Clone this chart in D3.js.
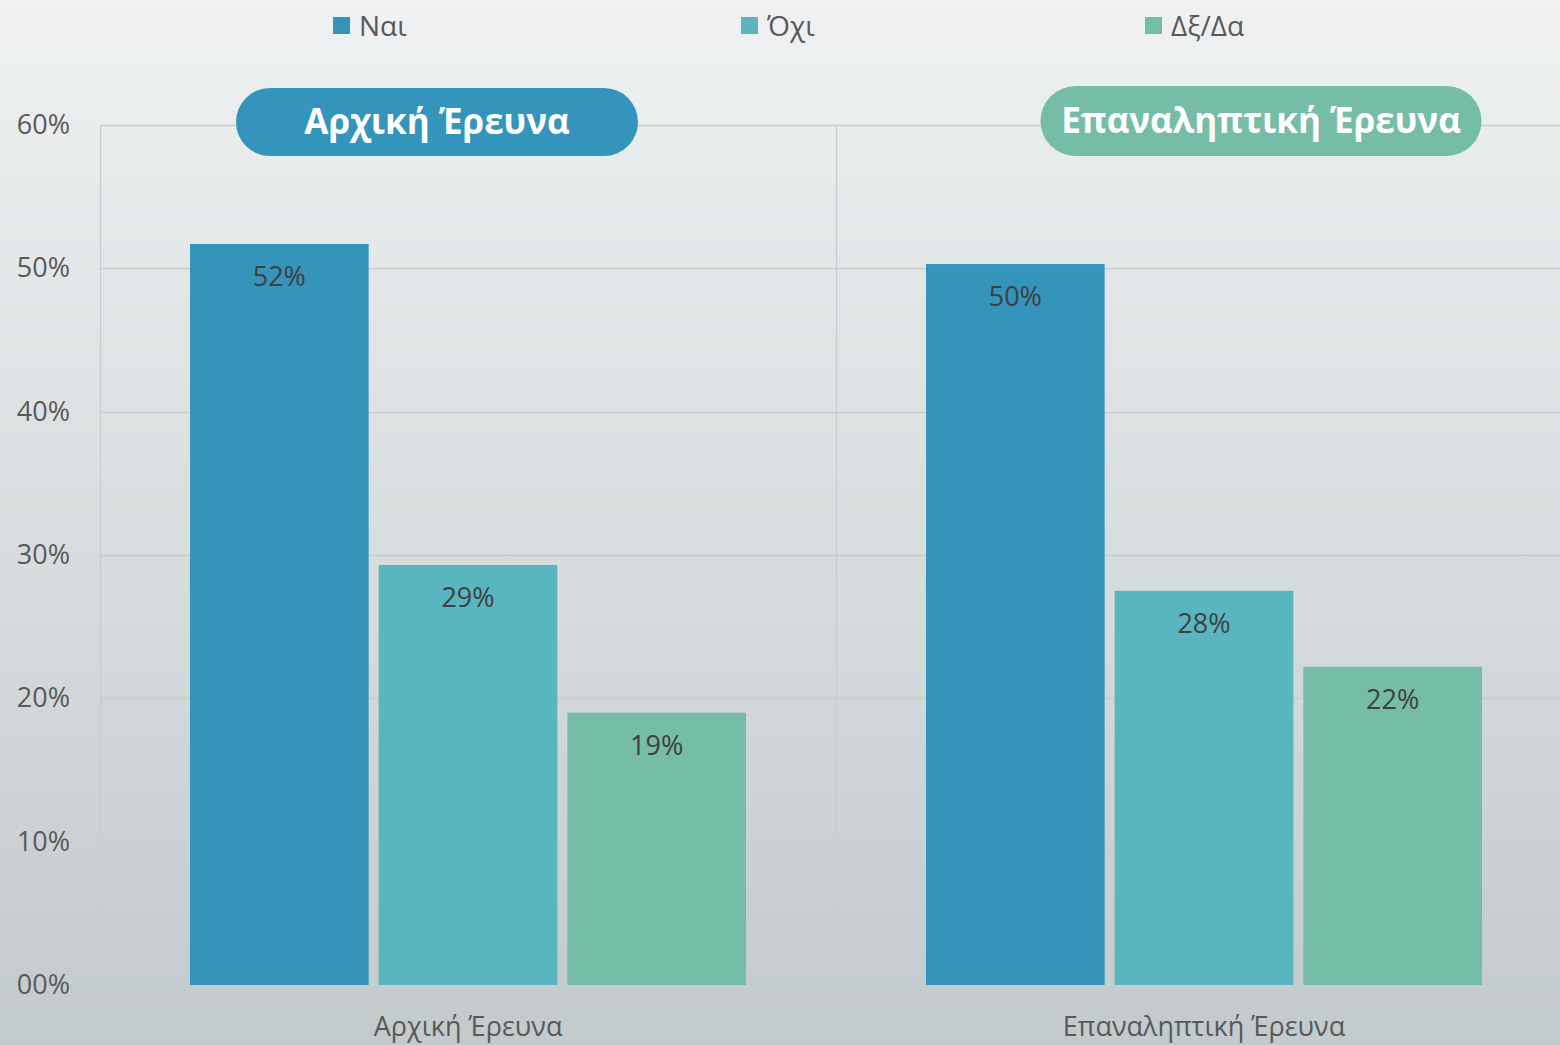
<!DOCTYPE html>
<html lang="el">
<head>
<meta charset="utf-8">
<title>Αρχική vs Επαναληπτική Έρευνα</title>
<script src="https://d3js.org/d3.v7.min.js"></script>
<style>
  html, body { margin: 0; padding: 0; overflow: hidden; }
  body { width: 1560px; height: 1045px; }
  text { font-family: "Open Sans", "Noto Sans", sans-serif; }
</style>
</head>
<body>
<div id="chart"></div>
<script>
    // Chart data
    const groups = ["Αρχική Έρευνα", "Επαναληπτική Έρευνα"];
    const seriesNames = ["Ναι", "Όχι", "Δξ/Δα"];
    const seriesColors = ["#3594bb", "#59b6c0", "#75bda6"];
    const valuesNai = [51.7, 50.3];
    const valuesOxi = [29.3, 27.5];
    const valuesDxDa = [19.0, 22.2];
    const valueLabels = [["52%", "29%", "19%"], ["50%", "28%", "22%"]];
    const yTicks = [0, 10, 20, 30, 40, 50, 60];
    const yTickLabels = ["00%", "10%", "20%", "30%", "40%", "50%", "60%"];
    const badgeColors = ["#3594bb", "#75bda6"];

    const seriesValues = [valuesNai, valuesOxi, valuesDxDa];

    const width = 1560;
    const height = 1045;
    const margin = { top: 125, right: -12, bottom: 60, left: 100 };

    const svg = d3.select("#chart")
        .append("svg")
        .attr("width", width)
        .attr("height", height);

    // Background gradient
    const grad = svg.append("defs").append("linearGradient")
        .attr("id", "bg")
        .attr("x1", 0).attr("y1", 0).attr("x2", 0).attr("y2", 1);
    grad.append("stop").attr("offset", "0%").attr("stop-color", "#eff1f2");
    grad.append("stop").attr("offset", "100%").attr("stop-color", "#c3cacc");

    svg.append("rect")
        .attr("width", width)
        .attr("height", height)
        .attr("fill", "url(#bg)");

    // Scales
    const x0 = d3.scaleBand()
        .domain(groups)
        .range([margin.left, width - margin.right])
        .padding(0);

    const x1 = d3.scaleBand()
        .domain(seriesNames)
        .range([90, x0.bandwidth() - 90])
        .paddingInner(0.053)
        .paddingOuter(0);

    const y = d3.scaleLinear()
        .domain([0, 60])
        .range([height - margin.bottom, margin.top]);

    // Gridlines
    svg.append("g")
        .selectAll("line")
        .data(yTicks)
        .join("line")
        .attr("x1", margin.left)
        .attr("x2", width)
        .attr("y1", d => Math.round(y(d)) + 0.5)
        .attr("y2", d => Math.round(y(d)) + 0.5)
        .attr("stroke", "#c9cdcf")
        .attr("stroke-width", 1.3);

    // Vertical lines: left axis and group divider
    svg.append("g")
        .selectAll("line")
        .data([x0(groups[0]), x0(groups[1])])
        .join("line")
        .attr("x1", d => Math.round(d) + 0.5)
        .attr("x2", d => Math.round(d) + 0.5)
        .attr("y1", y(60))
        .attr("y2", y(0))
        .attr("stroke", "#c9cdcf")
        .attr("stroke-width", 1.3);

    // Y axis labels
    const yAxis = svg.append("g")
        .attr("transform", `translate(${margin.left},0)`)
        .call(d3.axisLeft(y).tickValues(yTicks).tickFormat((d, i) => yTickLabels[i]).tickSize(0).tickPadding(30));
    yAxis.select(".domain").remove();
    yAxis.selectAll("text")
        .attr("fill", "#595959")
        .style("font-size", "27px")
        .style("font-family", "'Open Sans', sans-serif");

    // X axis labels
    const xAxis = svg.append("g")
        .attr("transform", `translate(0,${y(0)})`)
        .call(d3.axisBottom(x0).tickSize(0).tickPadding(32));
    xAxis.select(".domain").remove();
    xAxis.selectAll("text")
        .attr("fill", "#595959")
        .style("font-size", "27px")
        .style("font-family", "'Open Sans', sans-serif");

    // Bars
    const groupG = svg.append("g")
        .selectAll("g")
        .data(groups)
        .join("g")
        .attr("transform", d => `translate(${x0(d)},0)`);

    groupG.each(function(g, gi) {
        const bars = seriesNames.map((s, si) => ({ s: s, si: si, v: seriesValues[si][gi], label: valueLabels[gi][si] }));
        const sel = d3.select(this);

        sel.selectAll("rect")
            .data(bars)
            .join("rect")
            .attr("x", d => x1(d.s))
            .attr("y", d => y(d.v))
            .attr("width", x1.bandwidth())
            .attr("height", d => y(0) - y(d.v))
            .attr("fill", d => seriesColors[d.si]);

        sel.selectAll("text.val")
            .data(bars)
            .join("text")
            .attr("class", "val")
            .attr("x", d => x1(d.s) + x1.bandwidth() / 2)
            .attr("y", d => y(d.v) + 42)
            .attr("text-anchor", "middle")
            .attr("fill", "#404040")
            .style("font-size", "27px")
            .text(d => d.label);
    });

    // Group badges
    const badgeSpecs = [
        { cx: 437, cy: 122, w: 402, h: 68, size: 35 },
        { cx: 1261, cy: 121, w: 441, h: 70, size: 35 }
    ];
    badgeSpecs.forEach((b, i) => {
        svg.append("rect")
            .attr("x", b.cx - b.w / 2)
            .attr("y", b.cy - b.h / 2)
            .attr("width", b.w)
            .attr("height", b.h)
            .attr("rx", b.h / 2)
            .attr("fill", badgeColors[i]);
        svg.append("text")
            .attr("x", b.cx)
            .attr("y", b.cy)
            .attr("dy", "0.35em")
            .attr("text-anchor", "middle")
            .attr("fill", "#ffffff")
            .style("font-size", b.size + "px")
            .style("font-weight", "bold")
            .text(groups[i]);
    });

    // Legend
    const legendX = [333, 741, 1145];
    const legend = svg.append("g");
    seriesNames.forEach((s, i) => {
        legend.append("rect")
            .attr("x", legendX[i])
            .attr("y", 17)
            .attr("width", 17)
            .attr("height", 17)
            .attr("fill", seriesColors[i]);
        legend.append("text")
            .attr("x", legendX[i] + 26)
            .attr("y", 26)
            .attr("dy", "0.35em")
            .attr("fill", "#595959")
            .style("font-size", "28px")
            .text(s);
    });
</script>
</body>
</html>
